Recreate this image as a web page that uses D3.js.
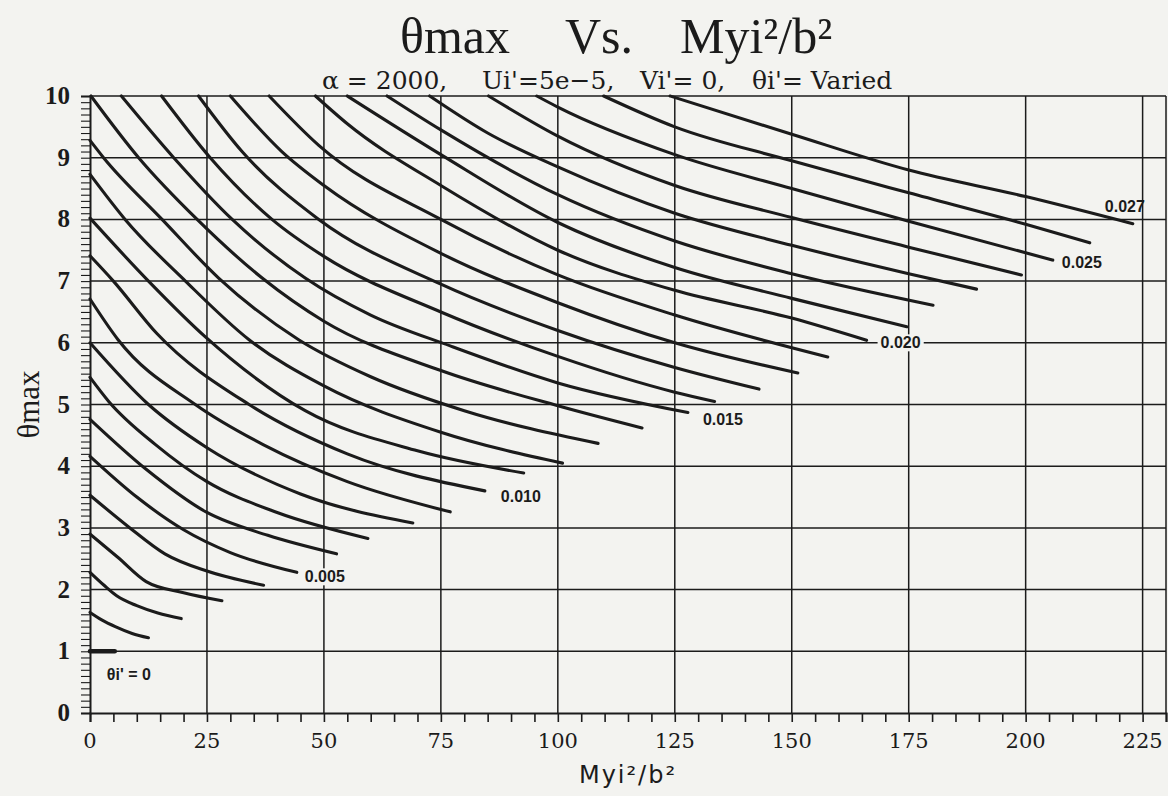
<!DOCTYPE html>
<html>
<head>
<meta charset="utf-8">
<script src="https://cdn.jsdelivr.net/npm/d3@7"></script>
<style>
  body { margin: 0; background: #f3f3f0; }
  svg { display: block; }
</style>
</head>
<body>
<svg id="chart" width="1168" height="796"></svg>
<script>
// θi' de cada curva
const thetaI = ["0", "0.001", "0.002", "0.003", "0.004", "0.005", "0.006", "0.007", "0.008", "0.009",
  "0.010", "0.011", "0.012", "0.013", "0.014", "0.015", "0.016", "0.017", "0.018", "0.019",
  "0.020", "0.021", "0.022", "0.023", "0.024", "0.025", "0.026", "0.027"];

// pontos [Myi²/b², θmax], uma lista por curva
const curves = [
  [[0, 1.0], [5.3, 1.0]],
  [[0, 1.63], [2.5, 1.51], [5.4, 1.40], [9, 1.29], [12.5, 1.22]],
  [[0, 2.28], [3, 2.07], [5.7, 1.90], [10, 1.74], [14.5, 1.62], [19.5, 1.53]],
  [[0, 2.9], [6, 2.52], [12, 2.13], [20, 1.95], [28.2, 1.82]],
  [[0, 3.53], [8.2, 3.02], [16, 2.58], [25, 2.3], [37.1, 2.07]],
  [[0, 4.16], [10, 3.5], [20, 2.97], [30, 2.6], [44.2, 2.28]],
  [[0, 4.76], [12, 3.95], [25, 3.25], [38, 2.88], [52.7, 2.58]],
  [[0, 5.44], [4, 5.05], [14, 4.35], [25, 3.75], [40, 3.25], [59.4, 2.83]],
  [[0, 6.0], [12.5, 5.0], [25, 4.3], [45, 3.55], [69, 3.08]],
  [[0, 6.71], [6, 6.05], [22.5, 5.0], [37, 4.35], [55, 3.75], [77, 3.26]],
  [[0, 7.41], [5, 7.0], [14.3, 6.15], [34, 5.0], [55, 4.2], [84.4, 3.6]],
  [[0, 8.02], [12.5, 7.0], [24.6, 6.1], [46, 4.9], [70, 4.25], [92.7, 3.89]],
  [[0, 8.73], [7.5, 8.0], [20.4, 7.0], [34, 6.05], [50, 5.3], [75, 4.55], [101, 4.05]],
  [[0, 9.28], [2.9, 9.0], [15.4, 8.0], [27.5, 7.05], [44.6, 6.05], [60, 5.45], [80, 4.9], [108.6, 4.37]],
  [[0.2, 10], [10.4, 9.0], [22.9, 8.0], [36.8, 7.05], [50, 6.35], [75, 5.55], [100, 4.98], [118, 4.62]],
  [[6.7, 10], [17.9, 9.0], [30.4, 8.0], [46, 7.05], [60, 6.45], [77, 5.95], [100, 5.35], [127.8, 4.87]],
  [[15.3, 10], [25.7, 9.0], [38.9, 8.0], [50, 7.4], [75, 6.5], [100, 5.78], [125, 5.2], [133.5, 5.05]],
  [[23.2, 10], [32.5, 9.1], [48.9, 8.0], [75, 6.95], [100, 6.2], [125, 5.6], [143, 5.25]],
  [[30, 10], [41, 9.1], [50, 8.55], [75, 7.45], [100, 6.65], [125, 6.0], [151.3, 5.51]],
  [[38.3, 10], [48.9, 9.2], [75, 8.0], [100, 7.1], [125, 6.45], [157.7, 5.77]],
  [[48.2, 10], [55, 9.55], [75, 8.55], [100, 7.5], [125, 6.85], [150, 6.4], [166, 6.04]],
  [[55, 10], [75, 9.05], [100, 7.95], [125, 7.22], [150, 6.72], [174.6, 6.26]],
  [[63.5, 10], [75, 9.45], [100, 8.4], [125, 7.65], [150, 7.12], [180.2, 6.61]],
  [[72.6, 10], [85, 9.4], [100, 8.85], [125, 8.1], [150, 7.58], [175, 7.12], [189.5, 6.87]],
  [[85.2, 10], [100, 9.35], [125, 8.55], [150, 8.03], [175, 7.55], [199.1, 7.1]],
  [[95.5, 10], [100, 9.82], [125, 9.05], [150, 8.5], [175, 7.97], [205.8, 7.34]],
  [[109.8, 10], [125, 9.5], [150, 8.95], [175, 8.43], [200, 7.92], [213.7, 7.62]],
  [[124, 10], [150, 9.38], [175, 8.8], [200, 8.37], [222.9, 7.93]]
];

// curvas com rótulo no final
const labelCurves = [5, 10, 15, 20, 25, 27];
const labelOffsets = [[8, 10], [16, 11], [15, 12], [14, 8], [9, 8], [-28, -12]];

const xMajorTicks = [0, 25, 50, 75, 100, 125, 150, 175, 200, 225];
const yMajorTicks = [0, 1, 2, 3, 4, 5, 6, 7, 8, 9, 10];

const width = 1168, height = 796;
const margin = {top: 96, right: 2, bottom: 83, left: 90};
const ink = "#1b1b1b";
const paper = "#f3f3f0";
const serif = "'Liberation Serif', 'DejaVu Serif', serif";
const wideSerif = "'DejaVu Serif', serif";
const sans = "'Liberation Sans', Arial, sans-serif";

const svg = d3.select("#chart");
svg.append("rect").attr("width", width).attr("height", height).attr("fill", paper);

const x = d3.scaleLinear().domain([0, 230]).range([margin.left, width - margin.right]);
const y = d3.scaleLinear().domain([0, 10]).range([height - margin.bottom, margin.top]);

// grade
const grid = svg.append("g").attr("stroke", ink).attr("stroke-width", 1.5);
grid.selectAll(".vgrid")
  .data(xMajorTicks.slice(1).concat([230]))
  .join("line")
  .attr("x1", d => x(d)).attr("x2", d => x(d))
  .attr("y1", y(0)).attr("y2", y(10));
grid.selectAll(".hgrid")
  .data(yMajorTicks.slice(1))
  .join("line")
  .attr("x1", x(0)).attr("x2", x(230))
  .attr("y1", d => y(d)).attr("y2", d => y(d));

// eixo x: marcas a cada 5
svg.append("g")
  .attr("transform", `translate(0,${y(0)})`)
  .call(d3.axisBottom(x).tickValues(d3.range(0, 231, 5)).tickSize(9).tickFormat(""))
  .call(g => g.select(".domain").attr("stroke", ink).attr("stroke-width", 2))
  .call(g => g.selectAll(".tick line").attr("stroke", ink).attr("stroke-width", 1.6));

// eixo y: marcas a cada 0.1
svg.append("g")
  .attr("transform", `translate(${x(0)},0)`)
  .call(d3.axisLeft(y).tickValues(d3.range(0, 100.5, 1).map(d => d / 10)).tickSize(9).tickFormat(""))
  .call(g => g.select(".domain").attr("stroke", ink).attr("stroke-width", 2))
  .call(g => g.selectAll(".tick line").attr("stroke", ink).attr("stroke-width", 1.1));

svg.append("g").selectAll("text")
  .data(xMajorTicks)
  .join("text")
  .attr("x", d => x(d))
  .attr("y", y(0) + 35)
  .attr("text-anchor", "middle")
  .attr("font-family", wideSerif)
  .attr("font-size", 21)
  .attr("fill", ink)
  .text(d => d);

svg.append("g").selectAll("text")
  .data(yMajorTicks)
  .join("text")
  .attr("x", x(0) - 20)
  .attr("y", d => y(d) + 8)
  .attr("text-anchor", "end")
  .attr("font-family", serif)
  .attr("font-weight", "bold")
  .attr("font-size", 25)
  .attr("fill", ink)
  .text(d => d);

// curvas
const line = d3.line()
  .x(d => x(d[0]))
  .y(d => y(d[1]))
  .curve(d3.curveMonotoneX);

svg.append("g").selectAll("path")
  .data(curves)
  .join("path")
  .attr("d", line)
  .attr("fill", "none")
  .attr("stroke", ink)
  .attr("stroke-width", (d, i) => i === 0 ? 4.5 : 3.1)
  .attr("stroke-linecap", "round");

// rótulos das curvas
const labels = svg.append("g");
labelCurves.forEach((c, i) => {
  const end = curves[c][curves[c].length - 1];
  const lx = x(end[0]) + labelOffsets[i][0];
  const ly = y(end[1]) + labelOffsets[i][1];
  const t = labels.append("text")
    .attr("x", lx).attr("y", ly)
    .attr("font-family", sans)
    .attr("font-weight", "bold")
    .attr("font-size", 16)
    .attr("fill", ink)
    .text(thetaI[c]);
  if (c !== 27) {
    const b = t.node().getBBox();
    labels.insert("rect", "text")
      .attr("x", b.x - 3).attr("y", b.y)
      .attr("width", b.width + 6).attr("height", b.height)
      .attr("fill", paper);
  }
});

svg.append("text")
  .attr("x", x(3.6)).attr("y", y(0.53))
  .attr("font-family", sans)
  .attr("font-weight", "bold")
  .attr("font-size", 16)
  .attr("fill", ink)
  .text("θi' = 0");

// títulos
const title = svg.append("text")
  .attr("y", 53)
  .attr("font-family", serif)
  .attr("font-size", 50)
  .attr("fill", ink);
title.append("tspan").attr("x", 400).text("θmax");
title.append("tspan").attr("x", 565).text("Vs.");
title.append("tspan").attr("x", 680).text("Myi²/b²");

const sub = svg.append("text")
  .attr("y", 89)
  .attr("font-family", wideSerif)
  .attr("font-size", 25)
  .attr("fill", ink);
sub.append("tspan").attr("x", 322).text("α = 2000,");
sub.append("tspan").attr("x", 482).text("Ui'=5e−5,");
sub.append("tspan").attr("x", 640).text("Vi'= 0,");
sub.append("tspan").attr("x", 752).text("θi'= Varied");

svg.append("text")
  .attr("x", (x(0) + x(230)) / 2)
  .attr("y", 783)
  .attr("text-anchor", "middle")
  .attr("font-family", "'DejaVu Sans', sans-serif")
  .attr("font-size", 24)
  .attr("letter-spacing", 2)
  .attr("fill", ink)
  .text("Myi²/b²");

svg.append("text")
  .attr("transform", `translate(39,${(y(0) + y(10)) / 2}) rotate(-90)`)
  .attr("text-anchor", "middle")
  .attr("font-family", serif)
  .attr("font-size", 31)
  .attr("fill", ink)
  .text("θmax");
</script>
</body>
</html>
